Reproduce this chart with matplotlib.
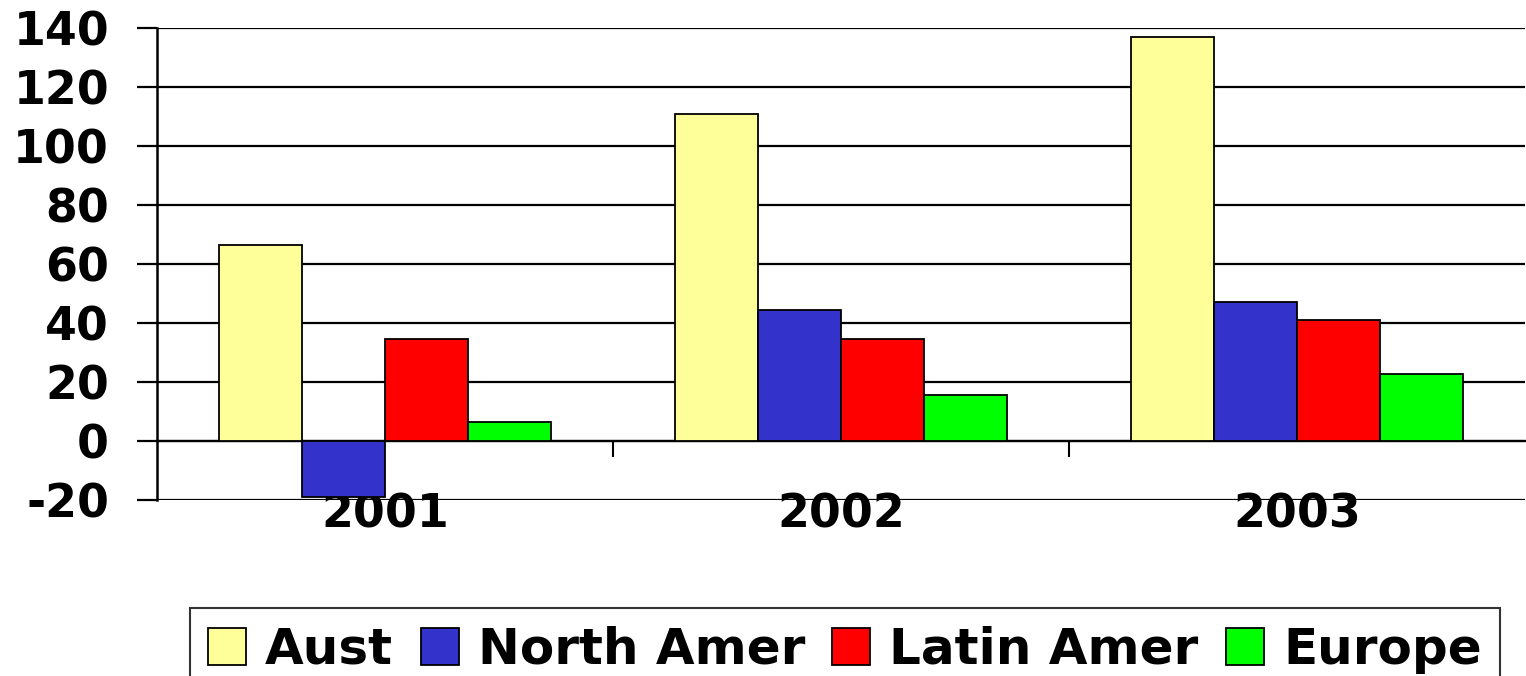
import numpy as np
import matplotlib
matplotlib.use("Agg")
import matplotlib.pyplot as plt
from matplotlib.ticker import FixedLocator

# data
years = ["2001", "2002", "2003"]
regions = ["Aust", "North Amer", "Latin Amer", "Europe"]
aust = [66.5, 111, 137]
north_amer = [-19, 44.5, 47]
latin_amer = [34.5, 34.5, 41]
europe = [6.3, 15.5, 22.6]
colours = ["#FFFF99", "#3333CC", "#FF0000", "#00FF00"]
yticks = [-20, 0, 20, 40, 60, 80, 100, 120, 140]

plt.rcParams["font.family"] = "DejaVu Sans"
plt.rcParams["font.weight"] = "bold"

fig = plt.figure(figsize=(15.26, 6.76), dpi=100)
ax = fig.add_axes([157 / 1526, 1 - 500 / 676, 1368 / 1526, 472 / 676])

x = np.arange(len(years))
w = 0.182
series = [aust, north_amer, latin_amer, europe]
for k, (vals, name, c) in enumerate(zip(series, regions, colours)):
    ax.bar(x + (k - 1.5) * w, vals, w, color=c, edgecolor="black",
           linewidth=1.3, label=name, zorder=3)

ax.set_xlim(-0.5, 2.5)
ax.set_ylim(-20, 140)
ax.set_yticks(yticks)
ax.set_yticklabels([str(v) for v in yticks], fontsize=33, fontweight="bold")
ax.yaxis.grid(True, color="black", linewidth=1.6, zorder=0)
ax.tick_params(axis="y", length=14.5, width=1.6, pad=20)

# category axis runs along zero, labels sit below the frame
ax.spines["bottom"].set_position(("data", 0))
ax.spines["bottom"].set_linewidth(1.6)
ax.spines["left"].set_linewidth(1.8)
ax.spines["top"].set_visible(False)
ax.spines["right"].set_visible(False)
ax.set_xticks(x)
ax.set_xticklabels(years, fontsize=33, fontweight="bold")
ax.xaxis.set_minor_locator(FixedLocator([0.5, 1.5]))
ax.tick_params(axis="x", which="major", length=0, pad=37)
ax.tick_params(axis="x", which="minor", length=11.5, width=1.5)

leg = fig.legend(loc="upper left", bbox_to_anchor=(190 / 1526, 1 - 608 / 676),
                 ncol=4, fontsize=36, frameon=True, fancybox=False,
                 handlelength=0.76, handleheight=0.76, handletextpad=0.38,
                 columnspacing=0.55, borderpad=0.36, borderaxespad=0)
leg.get_frame().set_edgecolor("black")
leg.get_frame().set_linewidth(1.5)
for t in leg.get_texts():
    t.set_fontweight("bold")

fig.savefig("out.png", dpi=100)
